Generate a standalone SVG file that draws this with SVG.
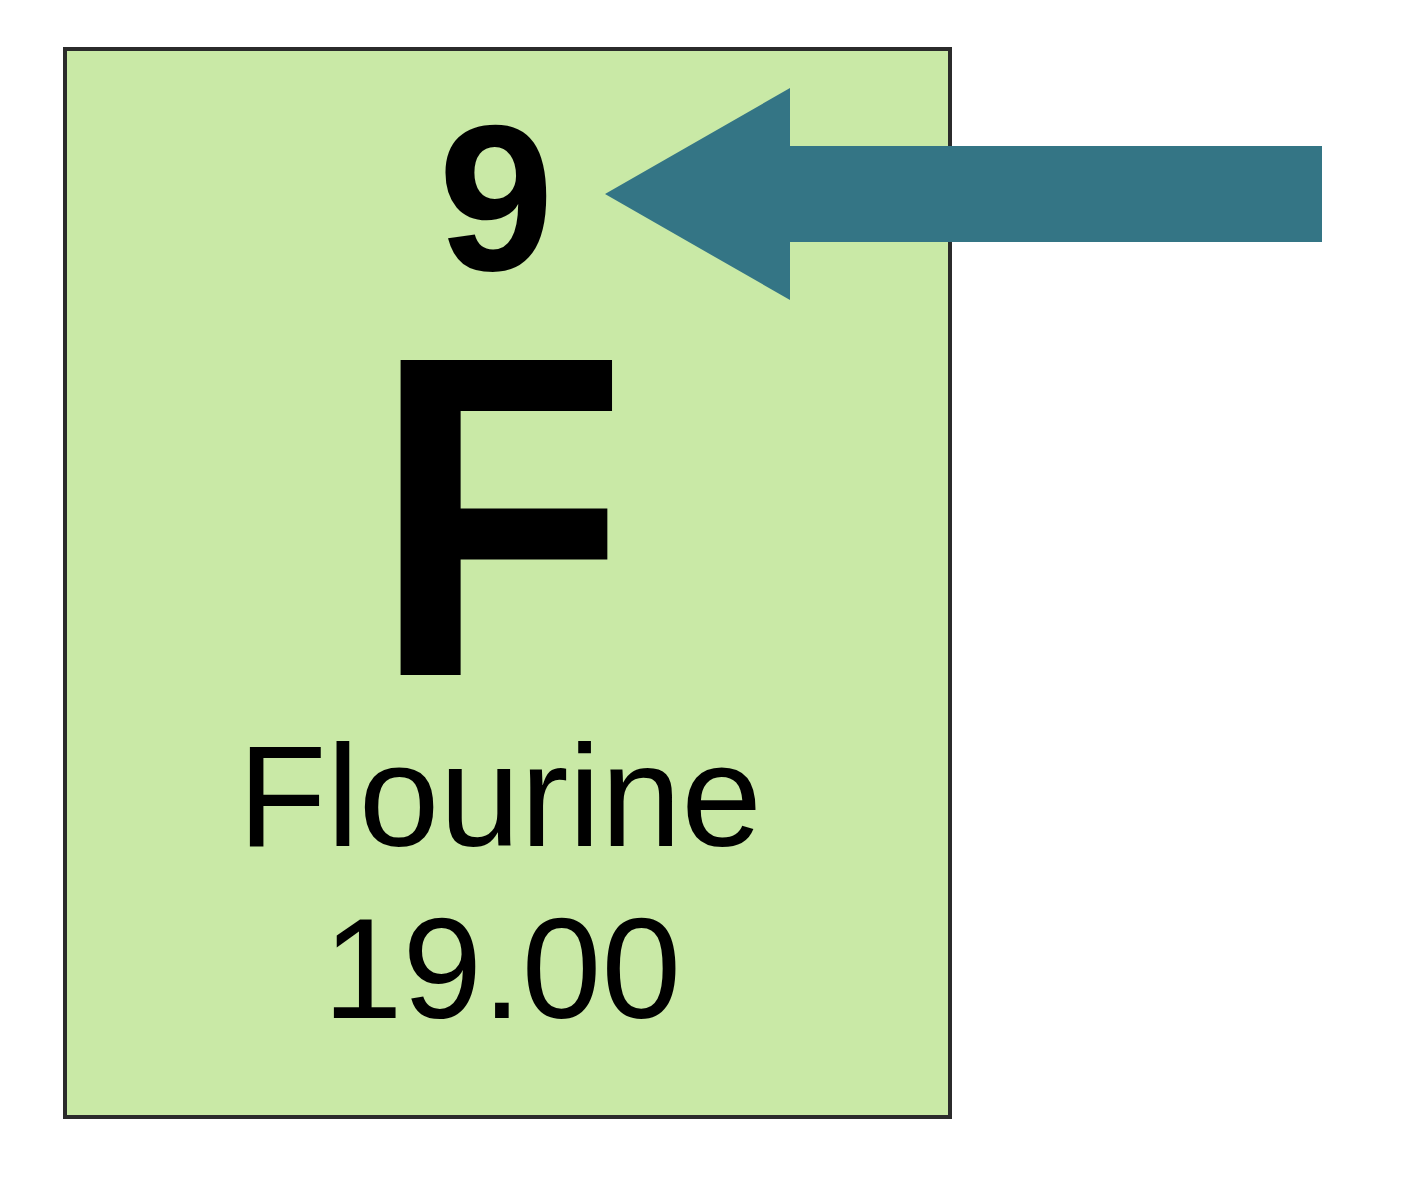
<svg xmlns="http://www.w3.org/2000/svg" width="1403" height="1200" viewBox="0 0 1403 1200">
<style>
.t{font-family:"Liberation Sans",Arial,sans-serif;fill:#000;text-anchor:middle}
</style>
<rect width="1403" height="1200" fill="#fff"/>
<g id="element">
<rect x="65" y="49" width="885" height="1068" fill="#c9e9a6" stroke="#2b2b2b" stroke-width="4"/>
<text class="t" x="496" y="270" font-size="208" font-weight="bold">9</text>
<text class="t" transform="translate(500,675) scale(0.91,1)" x="0" y="0" font-size="458" font-weight="bold">F</text>
<text class="t" x="500" y="846" font-size="145">Flourine</text>
<text class="t" x="502" y="1018" font-size="143">19.00</text>
</g>
<g id="connectors">
<polygon points="605,194 790,88 790,146 1322,146 1322,242 790,242 790,300" fill="#347585"/>
</g>
</svg>
